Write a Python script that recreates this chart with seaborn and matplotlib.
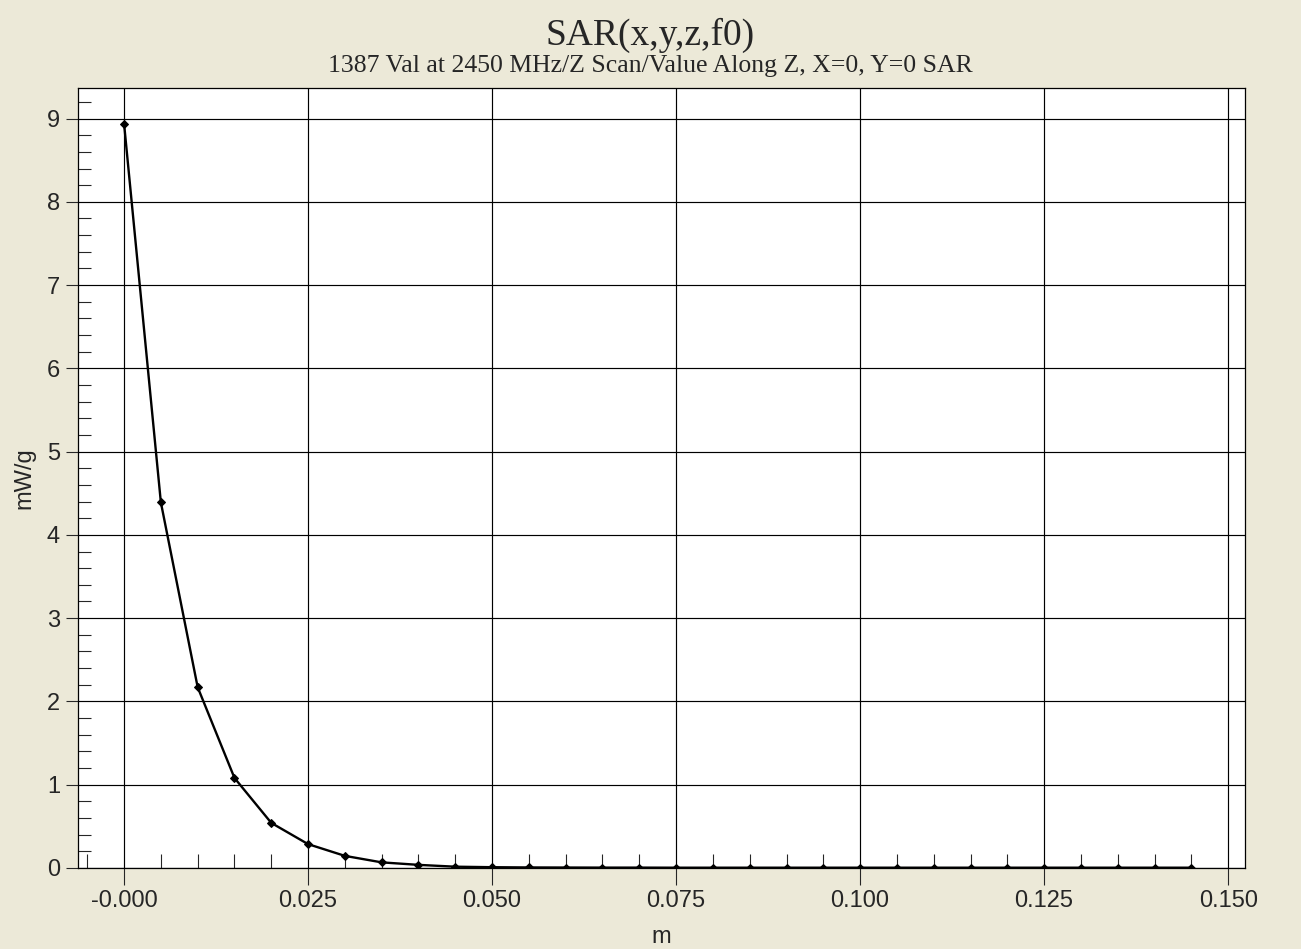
import numpy as np
import pandas as pd
import matplotlib
matplotlib.use("Agg")
import matplotlib.pyplot as plt
import seaborn as sns
from matplotlib.ticker import MultipleLocator

# Z scan positions (m) and SAR values (mW/g)
z_pos = [0.000, 0.005, 0.010, 0.015, 0.020, 0.025, 0.030, 0.035, 0.040, 0.045,
         0.050, 0.055, 0.060, 0.065, 0.070, 0.075, 0.080, 0.085, 0.090, 0.095,
         0.100, 0.105, 0.110, 0.115, 0.120, 0.125, 0.130, 0.135, 0.140, 0.145]
sar_vals = [8.94, 4.39, 2.17, 1.08, 0.54, 0.285, 0.144, 0.066, 0.036, 0.014,
            0.008, 0.005, 0.004, 0.003, 0.003, 0.002, 0.002, 0.002, 0.002, 0.002,
            0.002, 0.002, 0.002, 0.002, 0.002, 0.002, 0.002, 0.002, 0.002, 0.002]

title = "SAR(x,y,z,f0)"
subtitle = "1387 Val at 2450 MHz/Z Scan/Value Along Z, X=0, Y=0 SAR"

df = pd.DataFrame({"m": z_pos, "mW/g": sar_vals})

sns.set_style("ticks")
bg = "#ECE9D8"
plt.rcParams.update({
    "font.family": ["Liberation Sans", "DejaVu Sans"],
    "figure.facecolor": bg,
    "axes.facecolor": "white",
    "axes.edgecolor": "black",
    "axes.linewidth": 0.9,
})

fig = plt.figure(figsize=(13.01, 9.49), dpi=100)
ax = fig.add_axes([0.060, 0.0855, 0.897, 0.822])

sns.lineplot(data=df, x="m", y="mW/g", ax=ax, color="black", linewidth=1.7,
             marker="D", markersize=4, markeredgecolor="black")

ax.set_xlim(-0.00625, 0.1523)
ax.set_ylim(0, 9.37)

ax.xaxis.set_major_locator(MultipleLocator(0.025))
ax.xaxis.set_minor_locator(MultipleLocator(0.005))
ax.yaxis.set_major_locator(MultipleLocator(1))
ax.yaxis.set_minor_locator(MultipleLocator(0.2))
xt = ax.get_xticks()
ax.set_xticks(xt)
ax.set_xticklabels(["-0.000" if abs(t) < 1e-9 else f"{t:.3f}" for t in xt])
ax.set_xlim(-0.00625, 0.1523)

ax.grid(True, which="major", color="black", linewidth=0.85)
ax.set_axisbelow(True)

ax.tick_params(axis="x", which="major", direction="out", length=12, width=0.8,
               labelsize=17, pad=4)
ax.tick_params(axis="x", which="minor", direction="in", length=10, width=0.8)
ax.tick_params(axis="y", which="major", direction="out", length=9, width=0.8,
               labelsize=17, pad=4)
ax.tick_params(axis="y", which="minor", direction="in", length=9, width=0.8)

ax.set_xlabel("m", fontsize=17, labelpad=10)
ax.set_ylabel("mW/g", fontsize=17, labelpad=8)

fig.text(0.5, 0.963, title, ha="center", va="center", fontsize=27,
         family=["Liberation Serif", "DejaVu Serif"])
fig.text(0.5, 0.930, subtitle, ha="center", va="center", fontsize=18.5,
         family=["Liberation Serif", "DejaVu Serif"])

fig.savefig("out.png", dpi=100, facecolor=bg)
